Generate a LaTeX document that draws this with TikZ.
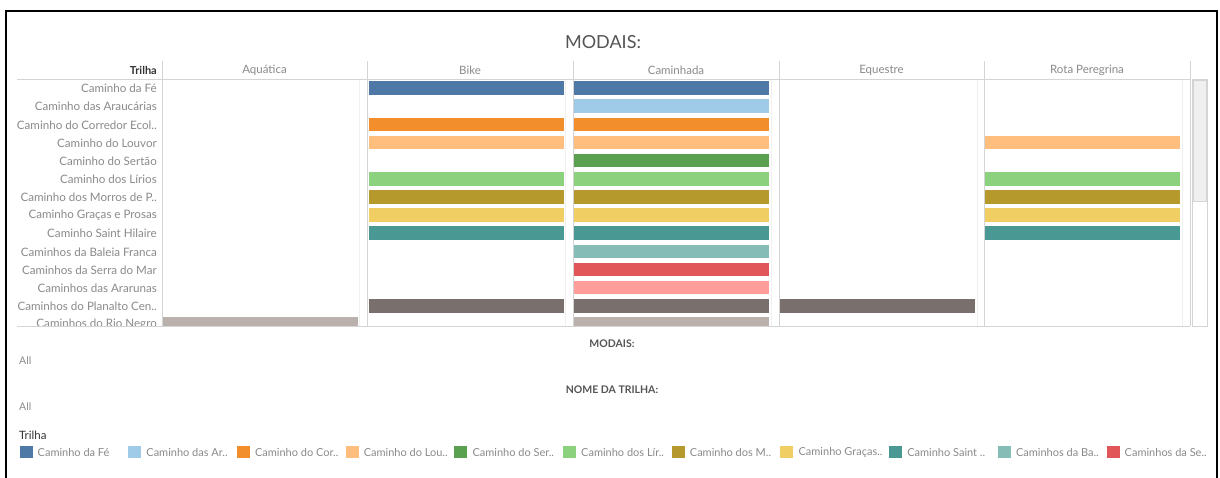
\documentclass[tikz,border=0pt]{standalone}
\usepackage{fontspec}
\setmainfont{Lato}
\definecolor{c1}{HTML}{4E79A7}
\definecolor{c2}{HTML}{A0CBE8}
\definecolor{c3}{HTML}{F28E2B}
\definecolor{c4}{HTML}{FFBE7D}
\definecolor{c5}{HTML}{59A14F}
\definecolor{c6}{HTML}{8CD17D}
\definecolor{c7}{HTML}{B6992D}
\definecolor{c8}{HTML}{F1CE63}
\definecolor{c9}{HTML}{499894}
\definecolor{c10}{HTML}{86BCB6}
\definecolor{c11}{HTML}{E15759}
\definecolor{c12}{HTML}{FF9D9A}
\definecolor{c13}{HTML}{79706E}
\definecolor{c14}{HTML}{BAB0AC}
\definecolor{gridc}{HTML}{D4D4D4}
\definecolor{faintc}{HTML}{F0F0F0}
\definecolor{labc}{HTML}{8A8A8A}
\definecolor{darkc}{HTML}{333333}
\definecolor{titc}{HTML}{555555}
\begin{document}
\begin{tikzpicture}[x=1pt,y=-1pt,
  rowlab/.style={anchor=east,inner sep=0pt,text=labc,font=\fontsize{11.6}{13}\selectfont},
  colhead/.style={inner sep=0pt,text=labc,font=\fontsize{11.5}{13}\selectfont},
  titlelab/.style={inner sep=0pt,text=titc,font=\fontsize{18}{20}\selectfont},
  filtlab/.style={inner sep=0pt,text=titc,font=\bfseries\fontsize{10.5}{12}\selectfont},
  alllab/.style={anchor=west,inner sep=0pt,text=labc,font=\fontsize{10.5}{12}\selectfont},
  leglab/.style={anchor=west,inner sep=0pt,text=labc,font=\fontsize{11}{13}\selectfont},
  gridline/.style={draw=gridc,line width=0.8pt},
  faintline/.style={draw=faintc,line width=0.8pt}]
\useasboundingbox (0,0) rectangle (1220,477);
\fill[white] (0,0) rectangle (1220,477);
\draw[line width=2.6pt] (6,482) -- (6,11) -- (1217,11) -- (1217,482);
% title
\node[titlelab] (title) at (603,42) {MODAIS:};
% headers
\node[anchor=east,inner sep=0pt,text=darkc,font=\bfseries\fontsize{11}{13}\selectfont] (trh) at (157,70) {Trilha};
\node[colhead] (h1) at (264.5,70) {Aquática};
\node[colhead] (h2) at (470,70) {Bike};
\node[colhead] (h3) at (676,70) {Caminhada};
\node[colhead] (h4) at (881.5,70) {Equestre};
\node[colhead] (h5) at (1087,70) {Rota Peregrina};
% faint pane edges
\foreach \x in {359,565,771,977,1182} \draw[faintline] (\x,79) -- (\x,326);
% bars and labels, clipped
\begin{scope}
\clip (0,79.5) rectangle (1190,326);
\foreach \c/\r in {0/14,
  1/1,1/3,1/4,1/6,1/7,1/8,1/9,1/13,
  2/1,2/2,2/3,2/4,2/5,2/6,2/7,2/8,2/9,2/10,2/11,2/12,2/13,2/14,
  3/13,
  4/4,4/6,4/7,4/8,4/9}{
  \pgfmathsetmacro{\xs}{163+205.6*\c}
  \pgfmathsetmacro{\yc}{88+18.15*(\r-1)}
  \fill[c\r] (\xs,\yc-6.8) rectangle (\xs+195,\yc+6.8);
}
\foreach \n/\t in {1/Caminho da Fé,2/Caminho das Araucárias,3/Caminho do Corredor Ecol..,
  4/Caminho do Louvor,5/Caminho do Sertão,6/Caminho dos Lírios,7/Caminho dos Morros de P..,
  8/Caminho Graças e Prosas,9/Caminho Saint Hilaire,10/Caminhos da Baleia Franca,
  11/Caminhos da Serra do Mar,12/Caminhos das Ararunas,13/Caminhos do Planalto Cen..,
  14/Caminhos do Rio Negro}{
  \node[rowlab] (r\n) at (157,{88.5+18.15*(\n-1)}) {\t};
}
\end{scope}
% grid
\draw[gridline] (17,79) -- (1190,79);
\draw[gridline] (17,326) -- (1190,326);
\foreach \x in {162,367.5,573,779,984.5,1190} \draw[gridline] (\x,61) -- (\x,326);
% scrollbar
\draw[draw=gridc,fill=white,line width=0.8pt] (1192.5,79.5) rectangle (1207,326);
\draw[draw=gridc,fill=faintc,line width=0.6pt] (1193,80) rectangle (1206.5,201);
% filters
\node[filtlab] (f1) at (612,344) {MODAIS:};
\node[alllab] (a1) at (19,361) {All};
\node[filtlab] (f2) at (612,390) {NOME DA TRILHA:};
\node[alllab] (a2) at (19,407) {All};
% legend
\node[anchor=west,inner sep=0pt,text=darkc,font=\fontsize{11.5}{13}\selectfont] (legt) at (19,435) {Trilha};
\foreach \k/\t in {1/Caminho da Fé,2/Caminho das Ar..,3/Caminho do Cor..,4/Caminho do Lou..,
  5/Caminho do Ser..,6/Caminho dos Lír..,7/Caminho dos M..,8/Caminho Graças..,
  9/Caminho Saint ..,10/Caminhos da Ba..,11/Caminhos da Se..}{
  \pgfmathsetmacro{\lx}{19.5+108.7*(\k-1)}
  \fill[c\k] (\lx,445.5) rectangle (\lx+13,458);
  \node[leglab] (l\k) at (\lx+18,452) {\t};
}
\end{tikzpicture}
\end{document}
